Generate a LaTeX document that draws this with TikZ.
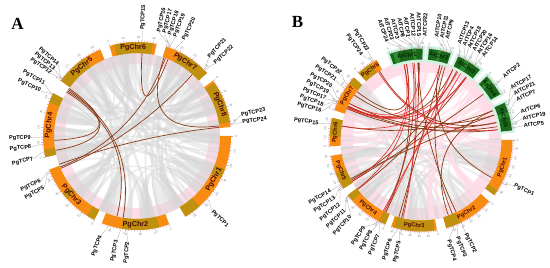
\documentclass[tikz,border=0pt]{standalone}
\usepackage{fontspec}
\setmainfont{Liberation Serif}
\setsansfont{Liberation Sans}
\definecolor{PgOrange}{HTML}{F88C12}
\definecolor{PgOlive}{HTML}{C0900F}
\definecolor{AtGreen}{HTML}{1C661C}
\definecolor{AtLight}{HTML}{2E8A2E}
\definecolor{AtHalo}{HTML}{CFF3E0}
\definecolor{LinkBrown}{HTML}{8C3A16}
\definecolor{LinkRed}{HTML}{E2231E}
\definecolor{RingPink}{HTML}{FFDDE8}
\definecolor{TickPink}{HTML}{F07AA0}
\definecolor{ChrText}{HTML}{4B0A02}

\tikzset{
  chrlabel/.style={font=\sffamily\bfseries\fontsize{7.2}{7.2}\selectfont,text=ChrText,inner sep=0pt},
  genelabel/.style={font=\sffamily\bfseries\fontsize{5.6}{5.6}\selectfont,inner sep=0.2pt},
  ticklab/.style={font=\sffamily\fontsize{3}{3}\selectfont,text=gray,inner sep=0pt},
  leader/.style={draw=gray!75,line width=0.25pt},
  minortick/.style={draw=TickPink,line width=0.3pt},
  majortick/.style={draw=gray!70,line width=0.3pt},
  link/.style={draw=LinkBrown,line width=0.7pt},
  redlink/.style={draw=LinkRed,line width=0.55pt},
  ribbon/.style={fill=black!16,opacity=0.45},
  pinkribbon/.style={fill=RingPink,opacity=0.7},
  panel/.style={font=\rmfamily\bfseries\fontsize{17}{17}\selectfont,inner sep=0pt}
}

% one chromosome band: name, start, end, text, base colour, patch colour, patches
\newcommand{\chrband}[7]{%
  \fill[#5] (#2:\Rout) arc[start angle=#2,end angle=#3,radius=\Rout pt] -- (#3:\Rin) arc[start angle=#3,end angle=#2,radius=\Rin pt] -- cycle;
  \foreach \fa/\fb in {#7}{
    \pgfmathsetmacro\oa{(#2)+((#3)-(#2))*\fa}
    \pgfmathsetmacro\ob{(#2)+((#3)-(#2))*\fb}
    \fill[#6] (\oa:\Rout) arc[start angle=\oa,end angle=\ob,radius=\Rout pt] -- (\ob:\Rin) arc[start angle=\ob,end angle=\oa,radius=\Rin pt] -- cycle;
  }
  \pgfmathsetmacro\cmid{((#2)+(#3))/2}
  \pgfmathsetmacro\crot{sin(\cmid)>=0 ? \cmid-90 : \cmid+90}
  \node[chrlabel,rotate=\crot] (#1) at (\cmid:{(\Rin+\Rout)/2}) {#4};
}

% ticks along a band: start, end, degrees per 10 units
\newcommand{\chrticks}[3]{%
  \pgfmathtruncatemacro\nmin{((#1)-(#2))/((#3)/5)}
  \foreach \k in {0,...,\nmin}{
    \draw[minortick] ({(#1)-\k*(#3)/5}:\Rout) -- ({(#1)-\k*(#3)/5}:{\Rout+1.4});
  }
  \pgfmathtruncatemacro\nmaj{((#1)-(#2))/(#3)}
  \foreach \k in {0,...,\nmaj}{
    \pgfmathsetmacro\ta{(#1)-\k*(#3)}
    \pgfmathtruncatemacro\tv{\k*10}
    \pgfmathsetmacro\tr{sin(\ta)>=0 ? \ta-90 : \ta+90}
    \draw[majortick] (\ta:\Rout) -- ({\ta}:{\Rout+2.4});
    \node[ticklab,rotate=\tr] at ({\ta}:{\Rout+4.8}) {\tv};
  }
}

% gene label: name, gene angle, label angle, text
\newcommand{\gene}[4]{%
  \pgfmathtruncatemacro\gside{cos(#3)>=0}
  \coordinate (#1-g) at (#2:\Rout);
  \coordinate (#1-k) at ({#2}:{\Rout+3});
  \ifnum\gside=1
    \node[genelabel,anchor=west,rotate=#3] (#1) at (#3:\Rlab) {#4};
    \draw[leader] (#1-g) -- (#1-k) -- (#1.west);
  \else
    \node[genelabel,anchor=east,rotate=#3+180] (#1) at (#3:\Rlab) {#4};
    \draw[leader] (#1-g) -- (#1-k) -- (#1.east);
  \fi
}

\newcommand{\lnk}[3][link]{%
  \draw[#1] (#2:\Rin) .. controls ({#2}:{\Rin/3}) and ({#3}:{\Rin/3}) .. (#3:\Rin);
}

\newcommand{\ribbon}[5][ribbon]{%
  \fill[#1] (#2:\Rin) arc[start angle=#2,end angle=#3,radius=\Rin pt]
    .. controls ({#3}:{\Rin/3}) and ({#4}:{\Rin/3}) .. (#4:\Rin)
    arc[start angle=#4,end angle=#5,radius=\Rin pt]
    .. controls ({#5}:{\Rin/3}) and ({#2}:{\Rin/3}) .. cycle;
}

\begin{document}
\begin{tikzpicture}[x=1pt,y=1pt]
\useasboundingbox (0,0) rectangle (550,268);
\fill[white] (0,0) rectangle (550,268);

\node[panel] (labA) at (17.5,244.5) {A};
\node[panel] (labB) at (297.5,246.5) {B};

% ---------------- panel A ----------------
\begin{scope}[shift={(137,132)}]
  \def\Rin{83}\def\Rout{94}\def\Rlab{106}
  \fill[RingPink,even odd rule] (0,0) circle[radius=83pt] (0,0) circle[radius=72pt];
  \pgfmathsetseed{11}
  \foreach \i in {1,...,105}{
    \pgfmathsetmacro\ra{random(0,359)}
    \pgfmathsetmacro\rb{\ra+1.5+3.5*rnd}
    \pgfmathsetmacro\rc{random(0,359)}
    \pgfmathsetmacro\rd{\rc+1.5+3.5*rnd}
    \ribbon{\ra}{\rb}{\rc}{\rd}
  }
  % links
  \lnk{86.5}{68}
  \lnk{71}{7}
  \lnk{70}{-158}
  \lnk{48}{-157}
  \lnk{6}{-160}
  \lnk{147}{183}
  \lnk{145}{190}
  \lnk{148}{-104}
  \lnk{146}{-99.6}
  % chromosomes
  \chrband{A-Chr6}{107}{78}{PgChr6}{PgOrange}{PgOlive}{0.1/0.92}
  \chrband{A-Chr7}{72}{42}{PgChr7}{PgOrange}{PgOlive}{0.3/1}
  \chrband{A-Chr8}{36}{5.5}{PgChr8}{PgOrange}{PgOlive}{0.05/0.9}
  \chrband{A-Chr1}{0}{-59}{PgChr1}{PgOrange}{PgOlive}{0.35/0.45,0.82/1}
  \chrband{A-Chr2}{-70}{-112}{PgChr2}{PgOrange}{PgOlive}{0.15/0.7}
  \chrband{A-Chr3}{-117}{-159}{PgChr3}{PgOrange}{PgOlive}{0/0.12,0.5/0.6}
  \chrband{A-Chr4}{193}{153}{PgChr4}{PgOrange}{PgOlive}{0/0.12,0.85/1}
  \chrband{A-Chr5}{144}{113}{PgChr5}{PgOrange}{PgOlive}{0/0.65}
  \foreach \s/\e in {107/78,72/42,36/5.5,0/-59,-70/-112,-117/-159,193/153,144/113}{
    \chrticks{\s}{\e}{9}
  }
  % genes
  \gene{A-TCP15}{87}{87}{PgTCP15}
  \gene{A-TCP16}{71}{78}{PgTCP16}
  \gene{A-TCP17}{70.5}{75}{PgTCP17}
  \gene{A-TCP18}{70}{72}{PgTCP18}
  \gene{A-TCP19}{69.5}{69}{PgTCP19}
  \gene{A-TCP20}{66}{64}{PgTCP20}
  \gene{A-TCP21}{45}{47.5}{PgTCP21}
  \gene{A-TCP22}{44}{43}{PgTCP22}
  \gene{A-TCP23}{7.5}{11.5}{PgTCP23}
  \gene{A-TCP24}{7}{7.5}{PgTCP24}
  \gene{A-TCP1}{-42}{-45}{PgTCP1}
  \gene{A-TCP2}{-96}{-95}{PgTCP2}
  \gene{A-TCP3}{-100}{-101}{PgTCP3}
  \gene{A-TCP4}{-108}{-110}{PgTCP4}
  \gene{A-TCP5}{-157}{-151}{PgTCP5}
  \gene{A-TCP6}{-158}{-155}{PgTCP6}
  \gene{A-TCP7}{190}{192.5}{PgTCP7}
  \gene{A-TCP8}{185}{186}{PgTCP8}
  \gene{A-TCP9}{181}{181}{PgTCP9}
  \gene{A-TCP10}{154}{155}{PgTCP10}
  \gene{A-TCP11}{153.5}{150.5}{PgTCP11}
  \gene{A-TCP12}{143}{144}{PgTCP12}
  \gene{A-TCP13}{142.5}{141}{PgTCP13}
  \gene{A-TCP14}{142}{138}{PgTCP14}
\end{scope}

% ---------------- panel B ----------------
\begin{scope}[shift={(421,128)},chrlabel/.append style={font=\sffamily\bfseries\fontsize{5.8}{5.8}\selectfont}]
  \def\Rin{80.5}\def\Rout{91.5}\def\Rlab{103.5}
  \fill[RingPink,even odd rule] (0,0) circle[radius=80.5pt] (0,0) circle[radius=68pt];
  \pgfmathsetseed{5}
  \foreach \i in {1,...,55}{
    \pgfmathsetmacro\ra{-random(0,225)}
    \pgfmathsetmacro\rb{\ra+1.5+3*rnd}
    \pgfmathsetmacro\rc{-random(0,225)}
    \pgfmathsetmacro\rd{\rc+1.5+3*rnd}
    \ribbon{\ra}{\rb}{\rc}{\rd}
  }
  \foreach \i in {1,...,32}{
    \pgfmathsetmacro\ra{random(7,108)}
    \pgfmathsetmacro\rb{\ra+1.5+2*rnd}
    \pgfmathsetmacro\rc{-random(0,225)}
    \pgfmathsetmacro\rd{\rc+1.5+2*rnd}
    \ribbon[pinkribbon]{\ra}{\rb}{\rc}{\rd}
  }
  % links
  \lnk{121}{13}
  \lnk{157}{9.9}
  \lnk{155}{7.6}
  \lnk{153}{13}
  \lnk{146}{18.8}
  \lnk{170}{22.2}
  \lnk{143}{100.8}
  \lnk{-150}{62.5}
  \lnk{-149}{36.3}
  \lnk{-117}{96.1}
  \lnk{-104}{91.9}
  \lnk{-106}{74}
  \lnk{-64}{92.4}
  \lnk{-67}{71.8}
  \lnk{-28}{75.8}
  \lnk{-70}{22.3}
  \lnk{-151}{18.8}
  \lnk{-116}{102.6}
  \lnk{156}{65.7}
  \lnk{-142}{54.1}
  \lnk[redlink]{-116}{65.7}
  \lnk[redlink]{156}{61.6}
  \lnk[redlink]{155.5}{75.8}
  \lnk[redlink]{122}{7.6}
  \lnk[redlink]{170}{54.7}
  \lnk[redlink]{-149}{102.6}
  \lnk[redlink]{-142.5}{100.8}
  \lnk[redlink]{-118}{59.2}
  \lnk[redlink]{153}{91}
  \lnk[redlink]{-103}{95}
  \lnk[redlink]{157}{54.1}
  % At halos
  \foreach \s/\e in {110/89,85/71,66/50,44/30,24/6}{
    \fill[AtHalo] ({\s+1.5}:{\Rout+3}) arc[start angle=\s+1.5,end angle=\e-1.5,radius=\Rout pt+3pt] -- ({\e-1.5}:{\Rin-3}) arc[start angle=\e-1.5,end angle=\s+1.5,radius=\Rin pt-3pt] -- cycle;
  }
  % chromosomes
  \chrband{B-At1}{110}{89}{\textcolor{black!85!green}{AtChr1}}{AtGreen}{AtLight}{0.1/0.25,0.7/0.8}
  \chrband{B-At2}{85}{71}{\textcolor{black!85!green}{AtChr2}}{AtGreen}{AtLight}{0.4/0.55}
  \chrband{B-At3}{66}{50}{\textcolor{black!85!green}{AtChr3}}{AtGreen}{AtLight}{0.3/0.5}
  \chrband{B-At4}{44}{30}{\textcolor{black!85!green}{AtChr4}}{AtGreen}{AtLight}{0.2/0.35}
  \chrband{B-At5}{24}{6}{\textcolor{black!85!green}{AtChr5}}{AtGreen}{AtLight}{0.35/0.5}
  \chrband{B-Chr1}{0}{-37}{PgChr1}{PgOrange}{PgOlive}{0.9/1}
  \chrband{B-Chr2}{-42}{-74}{PgChr2}{PgOrange}{PgOlive}{0.7/1}
  \chrband{B-Chr3}{-80}{-109}{PgChr3}{PgOrange}{PgOlive}{0.05/0.95}
  \chrband{B-Chr4}{-113}{-143}{PgChr4}{PgOrange}{PgOlive}{0/0.15,0.85/1}
  \chrband{B-Chr5}{-148}{-170}{PgChr5}{PgOrange}{PgOlive}{0/0.5}
  \chrband{B-Chr6}{184}{166}{PgChr6}{PgOrange}{PgOlive}{0.35/1}
  \chrband{B-Chr7}{161}{137}{PgChr7}{PgOrange}{PgOlive}{0.8/1}
  \chrband{B-Chr8}{133}{119}{PgChr8}{PgOrange}{PgOlive}{0/0.7}
  \foreach \s/\e in {0/-37,-42/-74,-80/-109,-113/-143,-148/-170,184/166,161/137,133/119}{
    \chrticks{\s}{\e}{5.5}
  }
  \foreach \s/\e in {110/89,85/71,66/50,44/30,24/6}{
    \chrticks{\s}{\e}{7}
  }
  % At genes
  \gene{B-At24}{102.6}{109}{AtTCP24}
  \gene{B-At23}{100.8}{106}{AtTCP23}
  \gene{B-At3}{96.1}{103}{AtTCP3}
  \gene{B-At8}{95}{100}{AtTCP8}
  \gene{B-At1}{92.4}{97}{AtTCP1}
  \gene{B-At12}{91.9}{94}{AtTCP12}
  \gene{B-At15}{91.7}{91}{AtTCP15}
  \gene{B-At22}{91}{88}{AtTCP22}
  \gene{B-At10}{75.8}{81.5}{AtTCP10}
  \gene{B-At11}{74}{78.5}{AtTCP11}
  \gene{B-At9}{71.8}{75.5}{AtTCP9}
  \gene{B-At13}{65.7}{68.5}{AtTCP13}
  \gene{B-At4}{62.5}{65.5}{AtTCP4}
  \gene{B-At18}{61.6}{62.5}{AtTCP18}
  \gene{B-At20}{59.2}{59.5}{AtTCP20}
  \gene{B-At16}{54.7}{56.5}{AtTCP16}
  \gene{B-At14}{54.1}{53.5}{AtTCP14}
  \gene{B-At2}{36.3}{37.5}{AtTCP2}
  \gene{B-At17}{22.3}{30}{AtTCP17}
  \gene{B-At21}{22.2}{26.5}{AtTCP21}
  \gene{B-At7}{18.8}{23}{AtTCP7}
  \gene{B-At6}{13}{16}{AtTCP6}
  \gene{B-At19}{9.9}{12}{AtTCP19}
  \gene{B-At5}{7.6}{8}{AtTCP5}
  % Pg genes
  \gene{B-Pg1}{-28}{-26}{PgTCP1}
  \gene{B-Pg2}{-64}{-64.5}{PgTCP2}
  \gene{B-Pg3}{-67}{-69.5}{PgTCP3}
  \gene{B-Pg4}{-70}{-74.5}{PgTCP4}
  \gene{B-Pg5}{-103}{-102}{PgTCP5}
  \gene{B-Pg6}{-105}{-107}{PgTCP6}
  \gene{B-Pg7}{-116}{-114}{PgTCP7}
  \gene{B-Pg8}{-117}{-118.5}{PgTCP8}
  \gene{B-Pg9}{-118}{-123}{PgTCP9}
  \gene{B-Pg10}{-142}{-132.5}{PgTCP10}
  \gene{B-Pg11}{-142.5}{-137}{PgTCP11}
  \gene{B-Pg12}{-149}{-141.5}{PgTCP12}
  \gene{B-Pg13}{-150}{-146}{PgTCP13}
  \gene{B-Pg14}{-151}{-150.5}{PgTCP14}
  \gene{B-Pg15}{170}{171}{PgTCP15}
  \gene{B-Pg16}{157}{164}{PgTCP16}
  \gene{B-Pg18}{156}{160.3}{PgTCP18}
  \gene{B-Pg17}{155.5}{156.6}{PgTCP17}
  \gene{B-Pg19}{155}{152.9}{PgTCP19}
  \gene{B-Pg20}{153}{149.2}{PgTCP20}
  \gene{B-Pg21}{146}{145}{PgTCP21}
  \gene{B-Pg22}{143}{140.5}{PgTCP22}
  \gene{B-Pg23}{121}{121}{PgTCP23}
  \gene{B-Pg24}{122}{125}{PgTCP24}
\end{scope}
\end{tikzpicture}
\end{document}
